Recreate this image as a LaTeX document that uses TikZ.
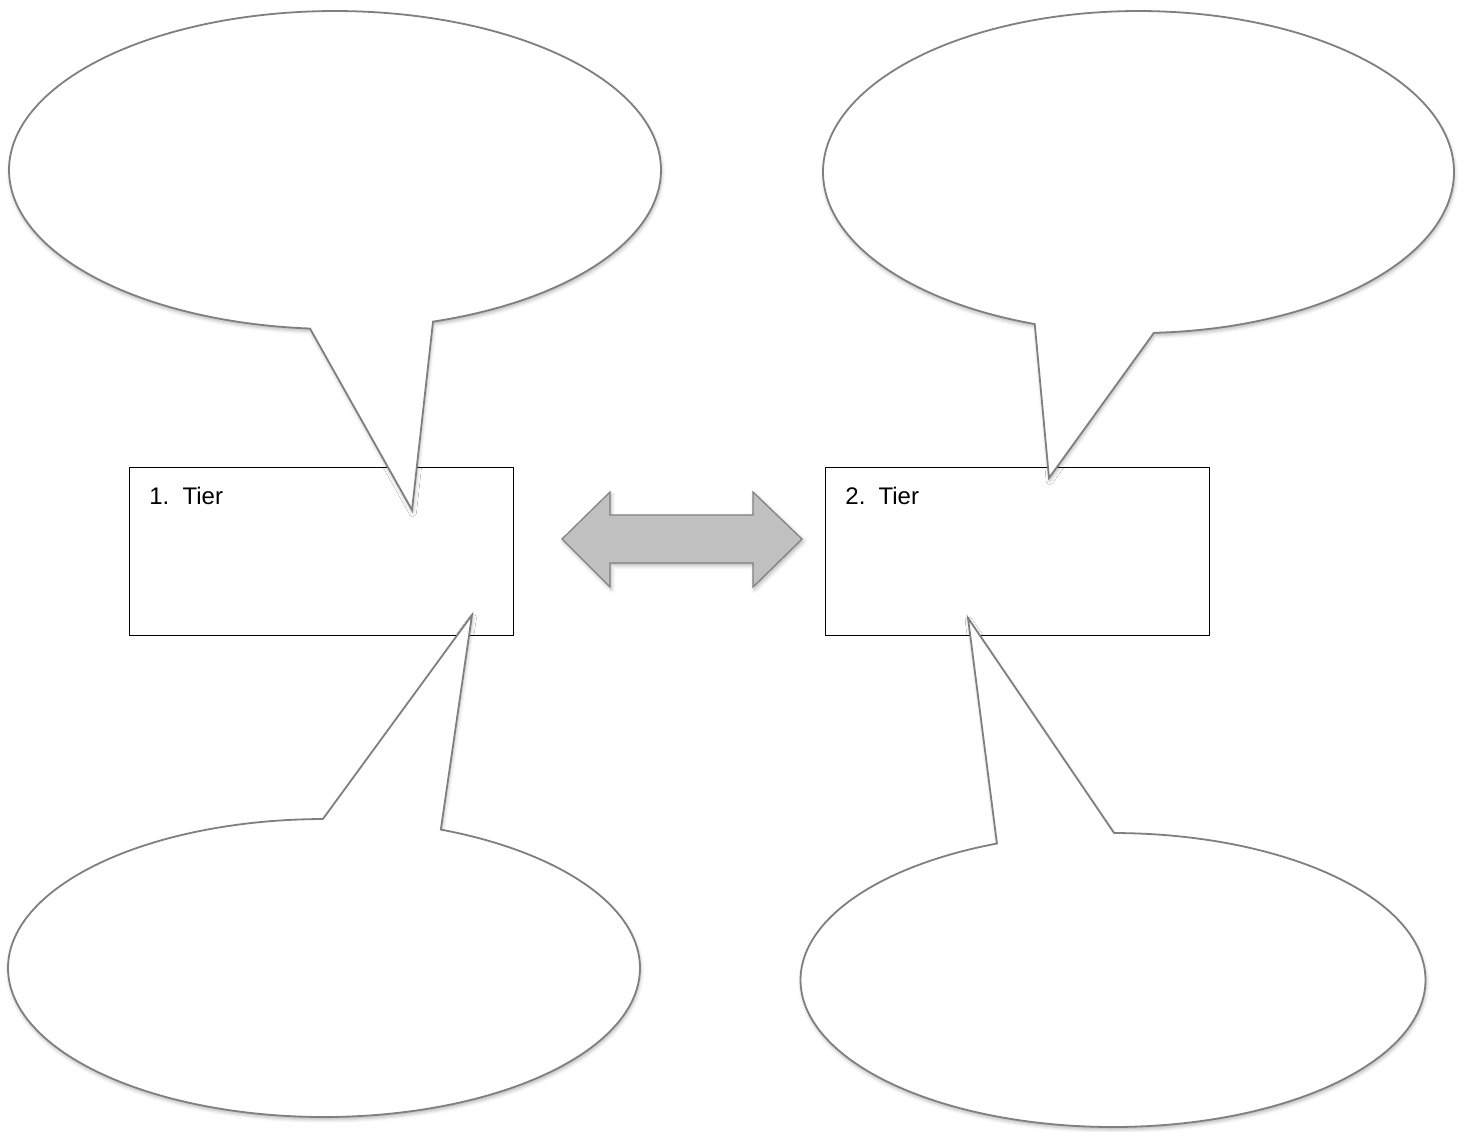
\documentclass[tikz,border=0pt]{standalone}
\usepackage{fontspec}
\setmainfont{Liberation Sans}
\usetikzlibrary{shadows.blur}

\definecolor{bubbleline}{HTML}{7F7F7F}
\definecolor{arrowfill}{HTML}{C0C0C0}

\begin{document}
\begin{tikzpicture}[x=0.5pt,y=-0.5pt,
  tierbox/.style={draw=black, line width=0.6pt, fill=white, inner sep=0pt,
    anchor=north west, minimum width=192pt, minimum height=84pt},
  tierlabel/.style={anchor=base west, inner sep=0pt, font=\fontsize{12pt}{14pt}\selectfont},
  bubble/.style={draw=bubbleline, line width=0.9pt, fill=white, line join=miter,
    blur shadow={shadow xshift=0.4pt, shadow yshift=-1.4pt,
      shadow blur radius=1.8pt, shadow opacity=28}},
  twoway/.style={draw=bubbleline, line width=0.6pt, fill=arrowfill,
    blur shadow={shadow xshift=0.8pt, shadow yshift=-1.2pt,
      shadow blur radius=2pt, shadow opacity=30}}
]
\useasboundingbox (0,0) rectangle (1460,1131);

% the two tier boxes
\node[tierbox] (tier1) at (129,467) {};
\node[tierbox] (tier2) at (825,467) {};

% speech bubbles: elliptical body plus a pointed tail
\coordinate (tipTL) at (412,510);
\coordinate (tipTR) at (1049,478);
\coordinate (tipBL) at (472,615);
\coordinate (tipBR) at (968,618);

\draw[bubble] plot[domain=72.5:-265.6, samples=240, variable=\t]
  ({335+326*cos(\t)},{170+159*sin(\t)}) -- (tipTL) -- cycle;
\draw[bubble] plot[domain=87.2:-250.8, samples=240, variable=\t]
  ({1138.5+315.5*cos(\t)},{172+161*sin(\t)}) -- (tipTR) -- cycle;
\draw[bubble] plot[domain=-68.3:269.8, samples=240, variable=\t]
  ({324+316*cos(\t)},{968+149*sin(\t)}) -- (tipBL) -- cycle;
\draw[bubble] plot[domain=-89.8:248.2, samples=240, variable=\t]
  ({1113+312.5*cos(\t)},{980+147*sin(\t)}) -- (tipBR) -- cycle;

% labels inside the tier boxes
\node[tierlabel] (lab1) at (149,504) {1.\hspace{6.6pt}Tier};
\node[tierlabel] (lab2) at (845,504) {2.\hspace{6.6pt}Tier};

% double-headed arrow between the tiers
\draw[twoway] (562,539) -- (610,492) -- (610,515) -- (753,515) -- (753,492)
  -- (802,539) -- (753,587) -- (753,563) -- (610,563) -- (610,587) -- cycle;
\end{tikzpicture}
\end{document}
